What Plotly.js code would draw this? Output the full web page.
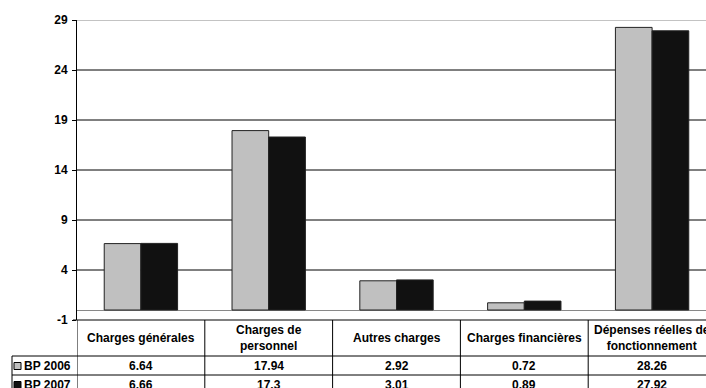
<!DOCTYPE html>
<html>
<head>
<meta charset="utf-8">
<script src="https://cdn.plot.ly/plotly-3.0.1.min.js"></script>
<style>
  html, body { margin: 0; padding: 0; overflow: hidden; background: #fff; }
  #chart { width: 716px; height: 400px; }
</style>
</head>
<body>
<div id="chart"></div>
<script>
// Budget lines (millions), BP 2006 vs BP 2007
const categories = ['Charges générales', 'Charges de<br>personnel', 'Autres charges', 'Charges financières', 'Dépenses réelles de<br>fonctionnement'];
const seriesNames = ['BP 2006', 'BP 2007'];
const values2006 = [6.64, 17.94, 2.92, 0.72, 28.26];
const values2007 = [6.66, 17.3, 3.01, 0.89, 27.92];
const yTicks = [-1, 4, 9, 14, 19, 24, 29];

const FONT = 'Arial, "Liberation Sans", sans-serif';
const fillColors = ['#c0c0c0', '#111111'];

// pixel helpers for the table area beneath the plot (plot: x 77..716, y 20..320)
const W = 716, H = 400, L = 77, T = 20, B = 80;
const plotW = W - L, plotH = H - T - B;
const px = x => (x - L) / plotW;          // page x -> paper x
const py = y => (T + plotH - y) / plotH;  // page y -> paper y

const idx = categories.map((_, i) => i);

const traces = [values2006, values2007].map((vals, s) => ({
  type: 'bar',
  name: seriesNames[s],
  x: idx,
  y: vals,
  marker: { color: fillColors[s], line: { color: '#222', width: 1 } },
  hoverinfo: 'skip'
}));

const shapes = [];
const annotations = [];

// horizontal grid lines (black), top border (grey)
yTicks.forEach(v => {
  if (v === -1) return;
  shapes.push({
    type: 'line', xref: 'paper', yref: 'y', x0: 0, x1: 1, y0: v, y1: v,
    layer: 'below', line: { color: v === 29 ? '#888' : '#000', width: 1 }
  });
});

// table: header row top edge (axis at -1) and row separators
const rowLines = [356, 375, 394];
shapes.push({ type: 'line', xref: 'paper', yref: 'paper', x0: px(73), x1: 1.02, y0: py(320), y1: py(320), line: { color: '#000', width: 1 } });
rowLines.forEach(y => shapes.push({
  type: 'line', xref: 'paper', yref: 'paper', x0: px(12), x1: 1.02, y0: py(y), y1: py(y), line: { color: '#000', width: 1 }
}));
// column separators at category boundaries
for (let i = 0; i <= categories.length; i++) {
  shapes.push({ type: 'line', xref: 'x', yref: 'paper', x0: i - 0.5, x1: i - 0.5, y0: py(320), y1: py(400), line: { color: '#000', width: 1 } });
}
// left border of the series label column
shapes.push({ type: 'line', xref: 'paper', yref: 'paper', x0: px(12), x1: px(12), y0: py(356), y1: py(400), line: { color: '#000', width: 1 } });

// legend keys
const rowCenters = [366, 385];
rowCenters.forEach((yc, s) => {
  shapes.push({
    type: 'rect', xref: 'paper', yref: 'paper',
    x0: px(14), x1: px(21), y0: py(yc - 3.5), y1: py(yc + 3.5),
    fillcolor: fillColors[s], line: { color: '#000', width: 1 }
  });
  annotations.push({
    xref: 'paper', yref: 'paper', x: px(22), y: py(yc), xanchor: 'left', yanchor: 'middle',
    text: '<b>' + seriesNames[s] + '</b>', showarrow: false, font: { family: FONT, size: 12, color: '#000' }
  });
});

// header labels and values
categories.forEach((c, i) => {
  annotations.push({
    xref: 'x', yref: 'paper', x: i, y: py(338), xanchor: 'center', yanchor: 'middle',
    text: '<b>' + c + '</b>', showarrow: false, align: 'center',
    font: { family: FONT, size: 12, color: '#000' }
  });
  [values2006, values2007].forEach((vals, s) => {
    annotations.push({
      xref: 'x', yref: 'paper', x: i, y: py(rowCenters[s]), xanchor: 'center', yanchor: 'middle',
      text: '<b>' + String(vals[i]) + '</b>', showarrow: false,
      font: { family: FONT, size: 12, color: '#000' }
    });
  });
});

const layout = {
  width: W, height: H,
  margin: { l: L, r: 0, t: T, b: B, pad: 0 },
  paper_bgcolor: '#fff', plot_bgcolor: '#fff',
  barmode: 'group', bargap: 0.426, bargroupgap: 0,
  showlegend: false,
  font: { family: FONT, size: 12, color: '#000' },
  xaxis: {
    range: [-0.5, categories.length - 0.5],
    showticklabels: false, showgrid: false, zeroline: false, showline: false, ticks: '',
    fixedrange: true
  },
  yaxis: {
    range: [-1, 29], tickmode: 'array', tickvals: yTicks,
    ticktext: yTicks.map(v => '<b>' + v + '</b>'),
    ticks: 'outside', ticklen: 4, tickcolor: '#000', ticklabelstandoff: 2,
    showgrid: false, showline: true, linecolor: '#000', linewidth: 1,
    zeroline: true, zerolinecolor: '#888', zerolinewidth: 1,
    tickfont: { family: FONT, size: 12, color: '#000' },
    fixedrange: true
  },
  shapes: shapes,
  annotations: annotations
};

Plotly.newPlot('chart', traces, layout, { staticPlot: true, displayModeBar: false });
</script>
</body>
</html>
